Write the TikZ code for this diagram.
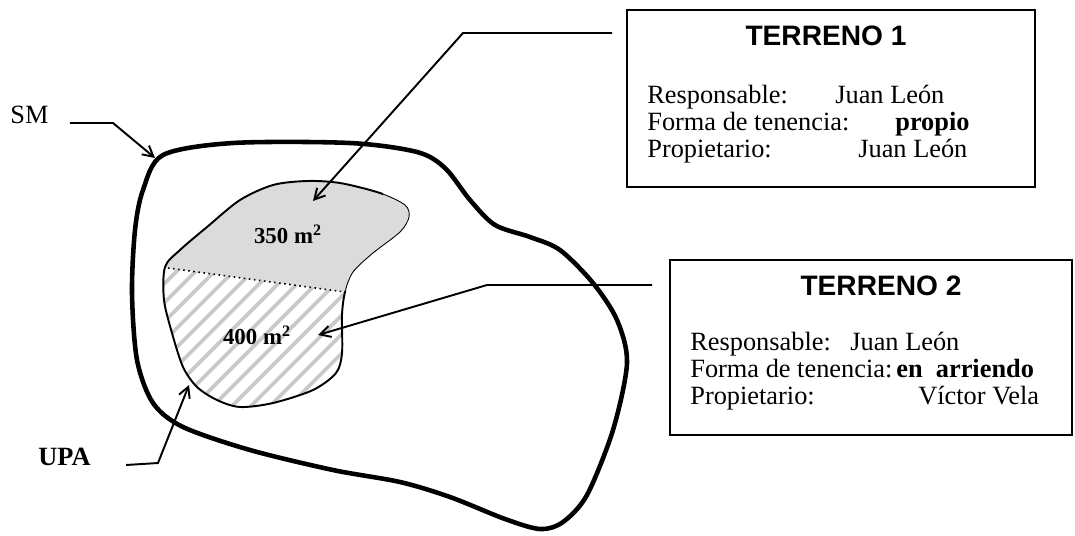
\documentclass[tikz,border=0pt]{standalone}
\usepackage{fontspec}
\setmainfont{Liberation Serif}
\newfontfamily\arialfont{Liberation Sans}
\usetikzlibrary{arrows.meta,positioning}

\begin{document}
\begin{tikzpicture}[x=0.02cm, y=-0.02cm,
  every node/.style={inner sep=0pt,font=\fontsize{15}{18}\selectfont},
  infobox/.style={draw,rectangle,line width=1.1pt},
  boxtitle/.style={font=\arialfont\bfseries\fontsize{16}{19}\selectfont},
  areatext/.style={font=\bfseries\fontsize{13}{15}\selectfont},
  pointer/.style={line width=1.1pt,-{Straight Barb[length=6pt,width=6.5pt]}}]

  \useasboundingbox (0,0) rectangle (1075,535);

  % SM outline
  \draw[line width=2.6pt] plot[smooth cycle] coordinates {
    (163,155) (233,143) (350,143) (417,152) (445,168) (470,200) (495,225)
    (530,237) (560,250) (593,283) (617,320) (627,363) (613,430) (587,495)
    (563,522) (540,529) (505,519) (450,497) (400,482) (333,470) (250,450)
    (183,427) (153,403) (137,360) (132,293) (135,230) (143,190)};

  % UPA: terreno 1 grey, terreno 2 hatched
  \path[save path=\fieldpath] plot[smooth cycle] coordinates {
      (165,267) (180,250) (207,227) (240,200) (273,185) (307,181) (340,183)
      (380,193) (405,205) (409,217) (400,232) (373,253) (353,272) (345,292)
      (342,315) (342,353) (336,373) (313,390) (273,403) (240,407) (217,400)
      (197,387) (183,367) (172,333) (164,300)};
  \coordinate (cut1) at (168,268);
  \coordinate (cut2) at (345,292);
  \begin{scope}
    \path[clip,use path=\fieldpath];
    \fill[gray!28] (100,100) -- (100,258.8) -- (450,306.2) -- (450,100) -- cycle;
    \clip (100,258.8) -- (450,306.2) -- (450,450) -- (100,450) -- cycle;
    \foreach \k in {-40,-21,...,340}
      \draw[gray!42,line width=2.2pt] (\k,450) -- ++(350,-350);
  \end{scope}
  % outline: thin on the right of terreno 1, thicker elsewhere
  \begin{scope}[even odd rule]
    \clip (0,0) rectangle (1075,535)
      (383,170) -- (440,170) -- (440,291) -- (330,291) -- (330,240) -- (383,200) -- cycle;
    \draw[line width=1.1pt,use path=\fieldpath];
  \end{scope}
  \begin{scope}
    \clip (383,170) -- (440,170) -- (440,291) -- (330,291) -- (330,240) -- (383,200) -- cycle;
    \draw[line width=0.5pt,use path=\fieldpath];
  \end{scope}
  \draw[dotted,line width=0.9pt] (cut1) -- (cut2);

  \node[areatext,anchor=base] (area1) at (288,243) {350 m\textsuperscript{2}};
  \node[areatext,anchor=base] (area2) at (257,344) {400 m\textsuperscript{2}};

  % Labels
  \node[anchor=base west] (sm) at (10,123) {SM};
  \node[anchor=base west,font=\bfseries\fontsize{15}{18}\selectfont] (upa) at (38,465) {UPA};

  % Terreno 1
  \node[infobox,minimum width=8.16cm,minimum height=3.54cm] (t1) at (831,98.5) {};
  \node[boxtitle,anchor=base] (t1title) at (826,45) {TERRENO 1};
  \foreach \lab/\val/\xv [count=\i] in {Responsable:/Juan León/835,
      Forma de tenencia:/\textbf{propio}/895, Propietario:/Juan León/858} {
    \pgfmathsetmacro{\yb}{76+27*\i}
    \node[anchor=base west] (t1lab\i) at (647,\yb) {\lab};
    \node[anchor=base west] (t1val\i) at (\xv,\yb) {\val};
  }

  % Terreno 2
  \node[infobox,minimum width=8.04cm,minimum height=3.5cm] (t2) at (871,347.5) {};
  \node[boxtitle,anchor=base] (t2title) at (881,295) {TERRENO 2};
  \foreach \lab/\val/\xv [count=\i] in {Responsable:/Juan León/850,
      Forma de tenencia:/\textbf{en\ \ arriendo}/896, Propietario:/Víctor Vela/918} {
    \pgfmathsetmacro{\yb}{323+27*\i}
    \node[anchor=base west] (t2lab\i) at (690,\yb) {\lab};
    \node[anchor=base west] (t2val\i) at (\xv,\yb) {\val};
  }

  % Pointers
  \coordinate (smbend) at (113,123);
  \coordinate (smtip) at (155,158);
  \draw[pointer] ([xshift=12pt]sm.base east) -- (smbend) -- (smtip);

  \coordinate (upabend) at (158,463);
  \coordinate (upatip) at (189,385);
  \draw[pointer] ([xshift=20pt]upa.base east) -- (upabend) -- (upatip);

  \coordinate (t1start) at (612,33);
  \coordinate (t1bend) at (463,33);
  \coordinate (t1tip) at (313,201);
  \draw[pointer] (t1start) -- (t1bend) -- (t1tip);

  \coordinate (t2start) at (652,285);
  \coordinate (t2bend) at (487,285);
  \coordinate (t2tip) at (318,335);
  \draw[pointer] (t2start) -- (t2bend) -- (t2tip);
\end{tikzpicture}
\end{document}
